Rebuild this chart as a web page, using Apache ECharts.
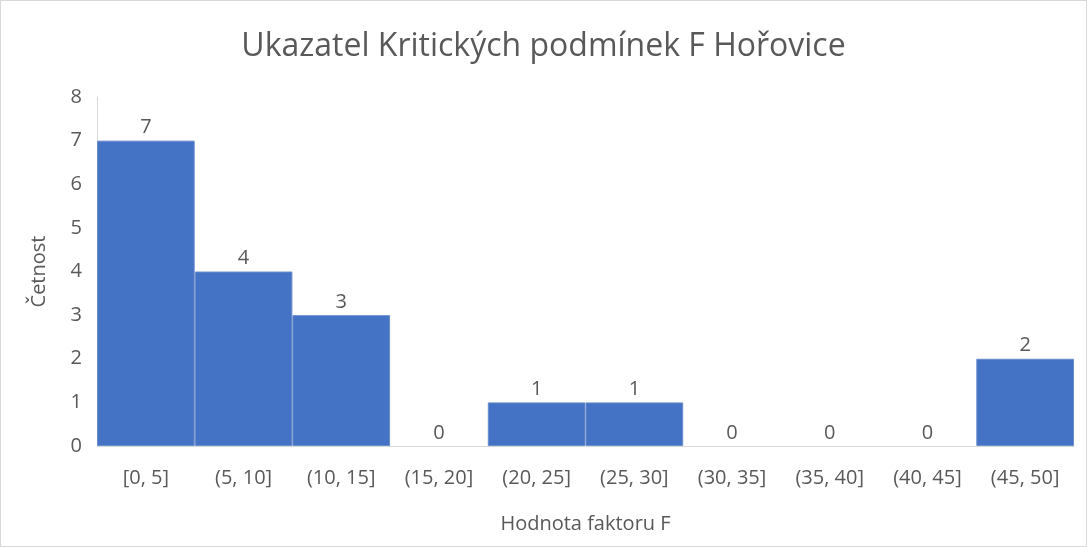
<html>
<meta charset="UTF-8">
<head>
    <script src="https://cdn.jsdelivr.net/npm/echarts@6/dist/echarts.min.js"></script>
    <style>
        body { margin: 0; background: #fff; }
        #chart { width: 1087px; height: 547px; box-sizing: border-box; border: 1px solid #d9d9d9; }
    </style>
</head>
<body>
<div id="chart"></div>
</body>
<script>
    // histogram bins and counts
    var binLabels = ['[0, 5]', '(5, 10]', '(10, 15]', '(15, 20]', '(20, 25]', '(25, 30]', '(30, 35]', '(35, 40]', '(40, 45]', '(45, 50]'];
    var counts = [7, 4, 3, 0, 1, 1, 0, 0, 0, 2];
    var yTicks = [0, 1, 2, 3, 4, 5, 6, 7, 8];

    var textColor = '#595959';
    var font = '"Open Sans", "Liberation Sans", sans-serif';

    // zero-height bins get no border, otherwise a thin line shows on the axis
    var barData = counts.map(function (v) {
        return { value: v, itemStyle: { borderWidth: v === 0 ? 0 : 1 } };
    });

    var chart = echarts.init(document.getElementById('chart'));
    chart.setOption({
        animation: false,
        textStyle: { fontFamily: font },
        title: {
            text: 'Ukazatel Kritických podmínek F Hořovice',
            left: 'center',
            top: 25,
            textStyle: { fontSize: 32, fontWeight: 'normal', color: textColor, fontFamily: font }
        },
        grid: { left: 96, right: 12, top: 96, bottom: 100 },
        xAxis: {
            type: 'category',
            data: binLabels,
            name: 'Hodnota faktoru F',
            nameLocation: 'middle',
            nameGap: 68,
            nameTextStyle: { fontSize: 20, color: textColor },
            axisLine: { lineStyle: { color: '#d9d9d9', width: 1 } },
            axisTick: { show: false },
            axisLabel: { fontSize: 20, color: textColor, margin: 22, interval: 0 }
        },
        yAxis: {
            type: 'value',
            min: yTicks[0],
            max: yTicks[yTicks.length - 1],
            interval: 1,
            name: 'Četnost',
            nameLocation: 'middle',
            nameGap: 48,
            nameTextStyle: { fontSize: 20, color: textColor },
            axisLine: { show: true, lineStyle: { color: '#d9d9d9', width: 1 } },
            axisTick: { show: false },
            splitLine: { show: false },
            axisLabel: { fontSize: 20, color: textColor, margin: 15 }
        },
        series: [{
            type: 'bar',
            data: barData,
            barCategoryGap: '0%',
            itemStyle: { color: '#4472C4', borderColor: '#6a8dcc', borderWidth: 1 },
            label: { show: true, position: 'top', fontSize: 20, color: textColor, distance: 3 }
        }]
    });
</script>
</html>
